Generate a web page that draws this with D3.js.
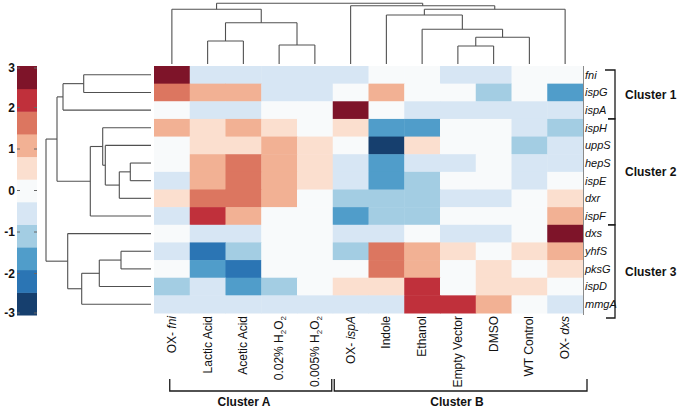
<!DOCTYPE html>
<html><head><meta charset="utf-8">
<script src="https://cdn.jsdelivr.net/npm/d3@7"></script>
<style>
html,body{margin:0;padding:0;background:#fff;}
svg{display:block;font-family:"Liberation Sans",Arial,sans-serif;}
</style></head>
<body><svg id="c" width="678" height="409"></svg>
<script>
const conditions = ["OX- fni","Lactic Acid","Acetic Acid","0.02% H2O2","0.005% H2O2","OX- ispA","Indole","Ethanol","Empty Vector","DMSO","WT Control","OX- dxs"];
const genes = ["fni","ispG","ispA","ispH","uppS","hepS","ispE","dxr","ispF","dxs","yhfS","pksG","ispD","mmgA"];
const values = [
  [ 2.7,-0.5,-0.5,-0.5,-0.5,-0.5, 0  , 0  ,-0.5,-0.5, 0  , 0  ],
  [ 1.6, 1.1, 1.1,-0.5,-0.5, 0  , 1.1, 0  , 0  ,-1.1, 0  ,-1.6],
  [ 0  ,-0.5,-0.5, 0  , 0  , 2.7, 0  ,-0.5,-0.5,-0.5,-0.5,-0.5],
  [ 1.1, 0.5, 1.1, 0.5, 0  , 0.5,-1.6,-1.6, 0  , 0  ,-0.5,-1.1],
  [ 0  , 0.5, 0.5, 1.1, 0.5, 0  ,-2.7, 0.5, 0  , 0  ,-1.1,-0.5],
  [ 0  , 1.1, 1.6, 1.1, 0.5,-0.5,-1.6,-0.5,-0.5, 0  ,-0.5,-0.5],
  [-0.5, 1.1, 1.6, 1.1, 0.5,-0.5,-1.6,-1.1, 0  , 0  ,-0.5, 0  ],
  [ 0.5, 1.6, 1.6, 1.1, 0  ,-1.1,-1.1,-1.1,-0.5,-0.5, 0  , 0.5],
  [-0.5, 2.2, 1.1, 0  , 0  ,-1.6,-1.1,-1.1, 0  , 0  , 0  , 1.1],
  [ 0  ,-0.5,-0.5, 0  , 0  ,-0.5,-0.5, 0  ,-0.5,-0.5, 0  , 2.7],
  [-0.5,-2.2,-1.1, 0  , 0  ,-1.1, 1.6, 1.1, 0.5, 0  , 0.5, 1.1],
  [ 0  ,-1.6,-2.2, 0  , 0  , 0  , 1.6, 1.1, 0  , 0.5, 0  , 0.5],
  [-1.1,-0.5,-1.6,-1.1, 0  , 0.5, 0.5, 2.2, 0  , 0.5, 0.5, 0  ],
  [-0.5,-0.5,-0.5,-0.5,-0.5,-0.5,-0.5, 2.2, 2.2, 1.1, 0  ,-0.5]
];
const legendTicks = [3,2,1,0,-1,-2,-3];
const palette = ["#163f6e","#2b75b4","#509dca","#a3cde3","#d7e6f4","#f8fafb","#fbdfcf","#f2b194","#dc7660","#c0303b","#7e1429"];
// dendrograms (leaf indices, merge heights)
const colTree = {h:60.7, c:[
  {h:54.7, c:[0, {h:41.3, c:[{h:23, c:[1,2]}, {h:19, c:[3,4]}]}]},
  {h:58.3, c:[5, {h:54.7, c:[{h:49, c:[6, {h:34.7, c:[7, {h:26.7, c:[{h:18, c:[8,9]}, 10]}]}]}, 11]}]}
]};
const rowTree = {h:105, c:[
  {h:94, c:[
    {h:88, c:[{h:67.3, c:[0,1]}, 2]},
    {h:60.7, c:[{h:48.3, c:[3, {h:45.7, c:[4, {h:31.7, c:[{h:20.7, c:[5,6]}, 7]}]}]}, 8]}
  ]},
  {h:83.3, c:[9, {h:69.3, c:[{h:51.7, c:[{h:30, c:[10,11]}, 12]}, 13]}]}
]};
const colClusters = [{name:"Cluster A", from:1, to:4}, {name:"Cluster B", from:5, to:11}];
const rowClusters = [{name:"Cluster 1", from:0, to:2}, {name:"Cluster 2", from:3, to:8}, {name:"Cluster 3", from:9, to:13}];

const svg = d3.select("#c");
const X0 = 154, X1 = 583, Y0 = 66, Y1 = 313;
const x = d3.scaleBand().domain(d3.range(conditions.length)).range([X0, X1]);
const y = d3.scaleBand().domain(d3.range(genes.length)).range([Y0, Y1]);
const color = d3.scaleQuantize().domain([-3,3]).range(palette);

// heatmap
const cells = [];
values.forEach((row,i)=>row.forEach((v,j)=>cells.push({i,j,v})));
svg.append("g").selectAll("rect").data(cells).join("rect")
  .attr("x",d=>x(d.j)).attr("y",d=>y(d.i))
  .attr("width",x.bandwidth()+0.5).attr("height",y.bandwidth()+0.5)
  .attr("fill",d=>color(d.v));
svg.append("line").attr("x1",X1+0.5).attr("x2",X1+0.5).attr("y1",Y0).attr("y2",Y1+2)
  .attr("stroke","#8a8a8a").attr("stroke-width",1);

// top dendrogram
const hTop = d3.scaleLinear().domain([0,64]).range([64,0]);
const dend = svg.append("g").attr("fill","none").attr("stroke","#505050").attr("stroke-width",1.1);
function drawCol(n){
  if (typeof n === "number") return {pos: x(n)+x.bandwidth()/2, h:0};
  const kids = n.c.map(drawCol);
  const yy = hTop(n.h);
  kids.forEach(k=>dend.append("path").attr("d",`M${k.pos},${hTop(k.h)}V${yy}`));
  dend.append("path").attr("d",`M${kids[0].pos},${yy}H${kids[1].pos}`);
  return {pos:(kids[0].pos+kids[1].pos)/2, h:n.h};
}
drawCol(colTree);
// left dendrogram
const hLeft = d3.scaleLinear().domain([0,150]).range([151,1]);
function drawRow(n){
  if (typeof n === "number") return {pos: y(n)+y.bandwidth()/2, h:0};
  const kids = n.c.map(drawRow);
  const xx = hLeft(n.h);
  kids.forEach(k=>dend.append("path").attr("d",`M${hLeft(k.h)},${k.pos}H${xx}`));
  dend.append("path").attr("d",`M${xx},${kids[0].pos}V${kids[1].pos}`);
  return {pos:(kids[0].pos+kids[1].pos)/2, h:n.h};
}
drawRow(rowTree);

// row labels
svg.append("g").selectAll("text").data(genes).join("text")
  .attr("x",X1+2).attr("y",(d,i)=>y(i)+y.bandwidth()/2).attr("dy","0.35em")
  .attr("font-size",11).attr("font-style","italic").attr("fill","#111").text(d=>d);

// column labels
const colG = svg.append("g");
conditions.forEach((c,j)=>{
  const t = colG.append("text")
    .attr("transform",`translate(${x(j)+x.bandwidth()/2+4},${Y1+3}) rotate(-90)`)
    .attr("text-anchor","end").attr("font-size",12).attr("fill","#111");
  if (c.startsWith("OX- ")) {
    t.append("tspan").text("OX- ");
    t.append("tspan").attr("font-style","italic").text(c.slice(4));
  } else if (c.endsWith("H2O2")) {
    t.append("tspan").text(c.replace("H2O2","H"));
    t.append("tspan").attr("font-size",8).attr("dy",3).text("2");
    t.append("tspan").attr("dy",-3).text("O");
    t.append("tspan").attr("font-size",8).attr("dy",3).text("2");
  } else t.text(c);
});

// column cluster brackets
const br = svg.append("g").attr("fill","none").attr("stroke","#1a1a1a").attr("stroke-width",1.3);
const bY = 391, bTop = 379;
colClusters.forEach((k,idx)=>{
  const a = idx===0 ? x(k.from)-2 - 18 : x(k.from)+1.5;
  const b = idx===0 ? x(k.to+1)-1 : X1+4;
  br.append("path").attr("d",`M${a},${bTop}V${bY}H${b}V${bTop}`);
  const cx = idx===0 ? 244 : 457;
  svg.append("text").attr("x",cx).attr("y",406).attr("text-anchor","middle")
    .attr("font-size",12).attr("font-weight","bold").attr("fill","#111").text(k.name);
});

// row cluster brackets
const rX = 615;
rowClusters.forEach((k,idx)=>{
  const top = idx===0 ? y(0)+4 : y(k.from);
  const bot = idx===2 ? Y1+5 : y(k.to+1);
  const lt = idx===0 ? 605 : 608;
  const lb = idx===2 ? 606 : 608;
  br.append("path").attr("d",`M${lt},${top}H${rX}V${bot}H${lb}`);
  svg.append("text").attr("x",625).attr("y",(top+bot)/2).attr("dy","0.35em")
    .attr("font-size",12).attr("font-weight","bold").attr("fill","#111").text(k.name);
});

// legend
const ly = d3.scaleLinear().domain([-3,3]).range([315,66]);
const LX = 17, LW = 20;
svg.append("g").selectAll("rect").data(palette).join("rect")
  .attr("x",LX).attr("width",LW)
  .attr("y",d=>ly(color.invertExtent(d)[1])).attr("height",d=>ly(color.invertExtent(d)[0])-ly(color.invertExtent(d)[1])+0.5)
  .attr("fill",d=>d);
const lt = svg.append("g");
legendTicks.forEach(v=>{
  const yy = Math.min(Math.max(ly(v),68),313);
  lt.append("line").attr("x1",LX).attr("x2",LX+3).attr("y1",yy).attr("y2",yy).attr("stroke","#666");
  lt.append("line").attr("x1",LX+LW-3).attr("x2",LX+LW).attr("y1",yy).attr("y2",yy).attr("stroke","#666");
  lt.append("text").attr("x",15).attr("y",yy).attr("dy","0.35em").attr("text-anchor","end")
    .attr("font-size",12).attr("font-weight","bold").attr("fill","#111").text(v);
});
</script></body></html>
